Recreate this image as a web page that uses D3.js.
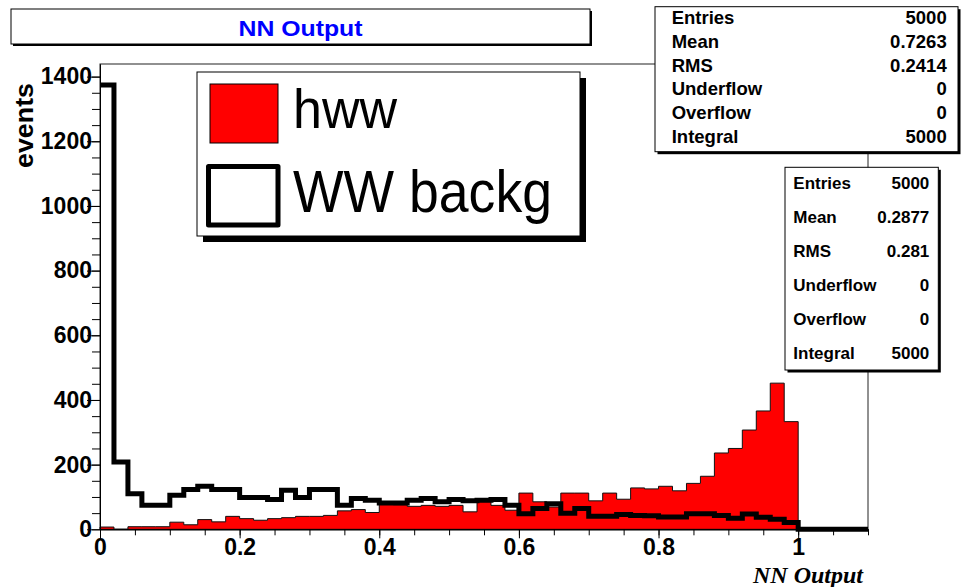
<!DOCTYPE html>
<html>
<head>
<meta charset="utf-8">
<script src="https://cdn.jsdelivr.net/npm/d3@7"></script>
<style>
body { margin: 0; background: #fff; }
svg { display: block; font-family: "Liberation Sans", Arial, sans-serif; }
</style>
</head>
<body>
<svg width="965" height="587"></svg>
<script>
// histogram contents, 55 bins of 0.02 from 0 to 1.1
var binWidth = 0.02;
var hww = [7, 0, 8, 8, 8, 22, 14, 30, 23, 40,
    33, 28, 33, 36, 40, 40, 43, 57, 61, 52,
    78, 76, 71, 74, 71, 74, 54, 95, 74, 59,
    112, 85, 69, 112, 112, 88, 112, 93, 128, 125,
    133, 119, 142, 164, 236, 250, 307, 366, 452, 333,
    0, 0, 0, 0, 0];
var wwBackg = [1374, 208, 110, 74, 74, 105, 123, 133, 123, 123,
    98, 98, 92, 121, 98, 123, 123, 74, 95, 90,
    81, 81, 90, 95, 85, 92, 88, 90, 92, 74,
    48, 64, 79, 50, 64, 40, 40, 46, 43, 42,
    38, 38, 48, 48, 43, 34, 47, 37, 31, 21,
    0, 0, 0, 0, 0];

var xMajor = [0, 0.2, 0.4, 0.6, 0.8, 1];
var xMinor = d3.range(0, 1.1001, 0.05);
var yMajor = [0, 200, 400, 600, 800, 1000, 1200, 1400];
var yMinor = d3.range(0, 1401, 50);

var statLabels = ["Entries", "Mean", "RMS", "Underflow", "Overflow", "Integral"];
var statsHww = ["5000", "0.7263", "0.2414", "0", "0", "5000"];
var statsWW = ["5000", "0.2877", "0.281", "0", "0", "5000"];

var svg = d3.select("svg");

var x = d3.scaleLinear().domain([0, 1.1]).range([100, 868]);
var y = d3.scaleLinear().domain([0, 1439]).range([529.3, 64]);

// frame
svg.append("rect")
    .attr("x", 100).attr("y", 64)
    .attr("width", 768).attr("height", 465.3)
    .attr("fill", "#fff").attr("stroke", "#222").attr("stroke-width", 1);

// histogram step points
function stepPoints(vals, closeLeft) {
    var pts = [];
    if (closeLeft) pts.push([x(0), y(0)]);
    vals.forEach(function(v, i) {
        pts.push([x(i * binWidth), y(v)]);
        pts.push([x((i + 1) * binWidth), y(v)]);
    });
    pts.push([x(vals.length * binWidth), y(0)]);
    return pts;
}
var line = d3.line();

svg.append("path")
    .attr("d", line(stepPoints(hww, true)) + "Z")
    .attr("fill", "#ff0000")
    .attr("stroke", "#111").attr("stroke-width", 1);

svg.append("path")
    .attr("d", line(stepPoints(wwBackg, false)))
    .attr("fill", "none")
    .attr("stroke", "#000").attr("stroke-width", 5)
    .attr("stroke-linejoin", "miter");

// axes
function styleAxis(g) {
    g.select(".domain").attr("stroke", "#000").attr("stroke-width", 1);
    g.selectAll(".tick line").attr("stroke", "#000").attr("stroke-width", 1);
    g.selectAll("text")
        .attr("font-family", "'Liberation Sans', Arial, sans-serif")
        .attr("font-weight", "bold")
        .attr("font-size", 23)
        .attr("fill", "#000");
}

svg.append("g").attr("transform", "translate(0,529.3)")
    .call(d3.axisBottom(x).tickValues(xMinor).tickSize(6).tickFormat("").tickSizeOuter(0))
    .call(styleAxis);
svg.append("g").attr("transform", "translate(0,529.3)")
    .call(d3.axisBottom(x).tickValues(xMajor).tickSize(9).tickPadding(0)
        .tickFormat(function(d) { return String(d); }).tickSizeOuter(0))
    .call(styleAxis);

svg.append("g").attr("transform", "translate(100,0)")
    .call(d3.axisLeft(y).tickValues(yMinor).tickSize(8).tickFormat("").tickSizeOuter(0))
    .call(styleAxis);
svg.append("g").attr("transform", "translate(100,0)")
    .call(d3.axisLeft(y).tickValues(yMajor).tickSize(13).tickPadding(-5)
        .tickFormat(d3.format("d")).tickSizeOuter(0))
    .call(styleAxis);

// axis titles
svg.append("text")
    .attr("transform", "translate(33,83) rotate(-90)")
    .attr("text-anchor", "end")
    .attr("font-weight", "bold").attr("font-size", 26)
    .attr("textLength", 85).attr("lengthAdjust", "spacingAndGlyphs")
    .text("events");

svg.append("text")
    .attr("x", 863).attr("y", 583)
    .attr("text-anchor", "end")
    .attr("font-family", "'Liberation Serif', 'Times New Roman', serif")
    .attr("font-weight", "bold").attr("font-style", "italic")
    .attr("font-size", 24)
    .text("NN Output");

// boxes with shadow
function box(x0, y0, w, h, off) {
    svg.append("rect").attr("x", x0 + off).attr("y", y0 + off)
        .attr("width", w).attr("height", h).attr("fill", "#000");
    svg.append("rect").attr("x", x0).attr("y", y0)
        .attr("width", w).attr("height", h)
        .attr("fill", "#fff").attr("stroke", "#000").attr("stroke-width", 1);
}

// title
box(11, 9, 579, 35, 2);
svg.append("text")
    .attr("x", 300.5).attr("y", 36)
    .attr("text-anchor", "middle")
    .attr("font-weight", "bold").attr("font-size", 22)
    .attr("fill", "#0000ff")
    .attr("textLength", 124).attr("lengthAdjust", "spacingAndGlyphs")
    .text("NN Output");

// legend
box(197, 72, 383, 164, 6);
svg.append("rect").attr("x", 210).attr("y", 84).attr("width", 68).attr("height", 59)
    .attr("fill", "#ff0000").attr("stroke", "#000").attr("stroke-width", 1);
svg.append("rect").attr("x", 208.5).attr("y", 166.5).attr("width", 69.5).attr("height", 58.5)
    .attr("fill", "#fff").attr("stroke", "#000").attr("stroke-width", 5)
    .attr("stroke-linejoin", "round");
svg.append("text").attr("x", 293).attr("y", 128)
    .attr("font-size", 56)
    .attr("textLength", 104).attr("lengthAdjust", "spacingAndGlyphs")
    .text("hww");
svg.append("text").attr("x", 293).attr("y", 212)
    .attr("font-size", 60)
    .attr("textLength", 259).attr("lengthAdjust", "spacingAndGlyphs")
    .text("WW backg");

// stats boxes
function statsBox(x0, y0, w, h, lx, rx, by, dy, size, vals) {
    box(x0, y0, w, h, 2.5);
    var g = svg.append("g")
        .attr("font-weight", "bold").attr("font-size", size);
    statLabels.forEach(function(s, i) {
        g.append("text").attr("x", lx).attr("y", by + i * dy).text(s);
        g.append("text").attr("x", rx).attr("y", by + i * dy)
            .attr("text-anchor", "end").text(vals[i]);
    });
}
statsBox(655, 6.7, 303, 145, 671.7, 946.7, 24, 23.8, 18.5, statsHww);
statsBox(785, 167.3, 153.3, 202.7, 793.3, 929.3, 189, 33.9, 17, statsWW);
</script>
</body>
</html>
